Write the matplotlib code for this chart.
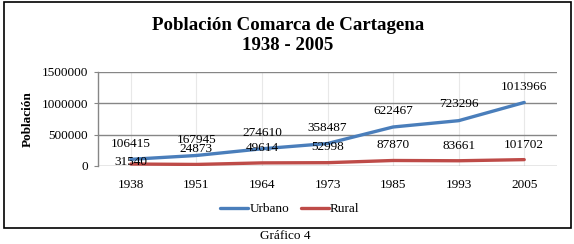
import matplotlib.pyplot as plt
from matplotlib.patches import Rectangle

years = ['1938', '1951', '1964', '1973', '1985', '1993', '2005']
urbano = [106415, 167945, 274610, 358487, 622467, 723296, 1013966]
rural = [31540, 24873, 49614, 52998, 87870, 83661, 101702]
yticks = [0, 500000, 1000000, 1500000]

# label offsets above the point, in pixels
urb_off = [15, 15, 16, 16, 16, 17, 15]
rur_off = [2, 15, 15, 16, 15, 15, 15]

plt.rcParams['font.family'] = ['Liberation Serif', 'DejaVu Serif']

W, H = 574, 244
fig = plt.figure(figsize=(W / 100, H / 100), dpi=100)

# outer frame of the chart
fig.patches.append(Rectangle((3.5 / W, 1 - 228 / H), 567 / W, 226.5 / H,
                             transform=fig.transFigure, fill=False,
                             edgecolor='black', linewidth=1.2))

ax = fig.add_axes([98 / W, 1 - 166 / H, (557 - 98) / W, (166 - 72) / H])

x = list(range(len(years)))
ax.plot(x, urbano, color='#4A7EBB', lw=2.4, solid_capstyle='round', label='Urbano', zorder=3)
ax.plot(x, rural, color='#BE4B48', lw=2.4, solid_capstyle='round', label='Rural', zorder=3)

for i in x:
    ax.annotate(str(urbano[i]), (i, urbano[i]), xytext=(0, urb_off[i]),
                textcoords='offset pixels', ha='center', va='center', fontsize=9.5, zorder=4)
    ax.annotate(str(rural[i]), (i, rural[i]), xytext=(0, rur_off[i]),
                textcoords='offset pixels', ha='center', va='center', fontsize=9.5, zorder=4)

ax.set_xlim(-0.5, 6.5)
ax.set_ylim(0, 1500000)
ax.set_yticks(yticks)
ax.set_yticklabels([str(v) for v in yticks], fontsize=9.5)
ax.set_xticks(x)
ax.set_xticklabels(years, fontsize=9.5)
ax.tick_params(axis='x', length=0, pad=9)
ax.tick_params(axis='y', length=3, color='#868686', pad=4)

for v in yticks:
    ax.axhline(v, color='#868686', lw=1.0, zorder=1)
for i in x:
    ax.axvline(i, color='#e8e8e8', lw=0.8, zorder=0)

for s in ['top', 'right', 'bottom']:
    ax.spines[s].set_visible(False)
ax.spines['left'].set_color('#868686')
ax.spines['left'].set_linewidth(1.0)

ax.set_ylabel('Población', fontsize=9.5, fontweight='bold', labelpad=6)

fig.text(288 / W, 1 - 25 / H, 'Población Comarca de Cartagena', ha='center', va='center',
         fontsize=13.6, fontweight='bold')
fig.text(288 / W, 1 - 46 / H, '1938 - 2005', ha='center', va='center',
         fontsize=13.6, fontweight='bold')

fig.legend(loc='center', bbox_to_anchor=(290 / W, 1 - 209 / H), ncol=2, frameon=False,
           fontsize=9.5, handlelength=2.1, handletextpad=0.1, columnspacing=0.9)

fig.text(285 / W, 1 - 236 / H, 'Gráfico 4', ha='center', va='center', fontsize=9.5)

fig.savefig('out.png', dpi=100)
